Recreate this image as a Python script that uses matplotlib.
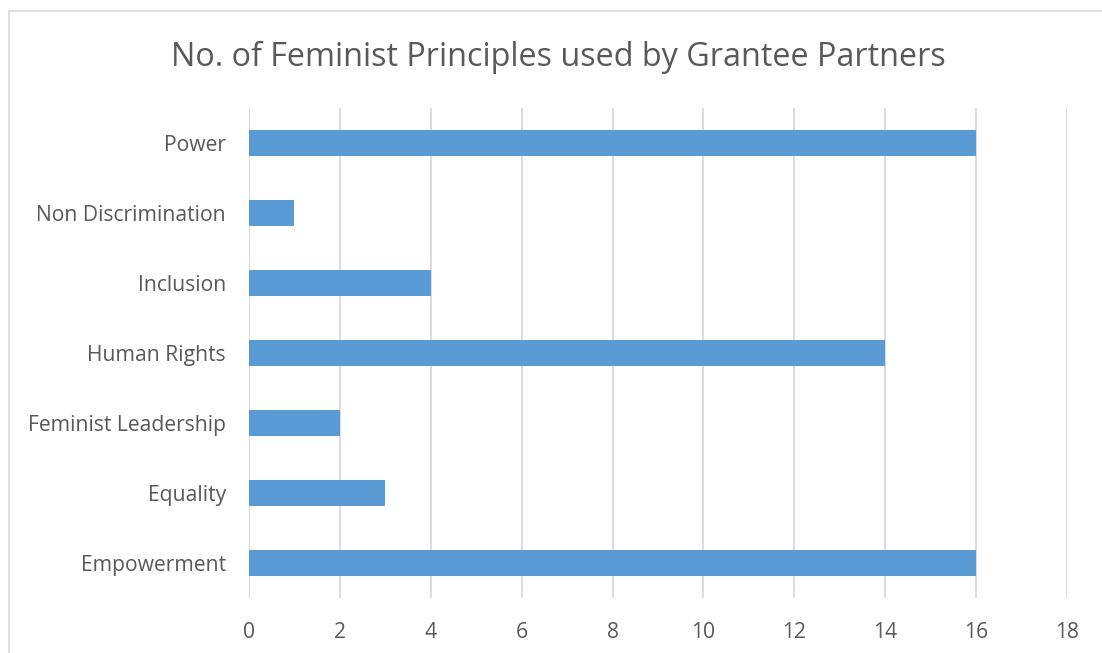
import matplotlib.pyplot as plt
from matplotlib.patches import Rectangle

# data, bottom to top as drawn
categories = ['Empowerment', 'Equality', 'Feminist Leadership', 'Human Rights',
              'Inclusion', 'Non Discrimination', 'Power']
counts = [16, 3, 2, 14, 4, 1, 16]
x_ticks = [0, 2, 4, 6, 8, 10, 12, 14, 16, 18]

plt.rcParams['font.family'] = ['Open Sans', 'DejaVu Sans']
text_color = '#595959'
grid_color = '#D9D9D9'
bar_color = '#5B9BD5'

fig = plt.figure(figsize=(11.02, 6.53), dpi=100)
ax = fig.add_axes([249 / 1102, 1 - 598 / 653, (1067 - 249) / 1102, 490 / 653])

# outer chart border like the Excel frame
fig.patches.append(Rectangle((9 / 1102, -0.05), 1.2, 1 - 10.5 / 653 + 0.05,
                             transform=fig.transFigure, fill=False,
                             edgecolor=grid_color, linewidth=1.2))

ypos = range(len(categories))
ax.barh(ypos, counts, height=0.36, color=bar_color, zorder=3)

ax.set_xlim(0, 18)
ax.set_ylim(-0.5, len(categories) - 0.5)
ax.set_xticks(x_ticks)
ax.set_yticks(list(ypos))
ax.set_yticklabels(categories)
ax.grid(axis='x', color=grid_color, linewidth=1.3, zorder=0)
for s in ax.spines.values():
    s.set_visible(False)
ax.tick_params(axis='both', length=0, labelsize=15.2, colors=text_color)
ax.tick_params(axis='y', pad=16.5)
ax.tick_params(axis='x', pad=17)

fig.text(558 / 1102, 1 - 57 / 653, 'No. of Feminist Principles used by Grantee Partners',
         ha='center', va='center', fontsize=23.3, color=text_color)

plt.savefig('out.png', dpi=100)
